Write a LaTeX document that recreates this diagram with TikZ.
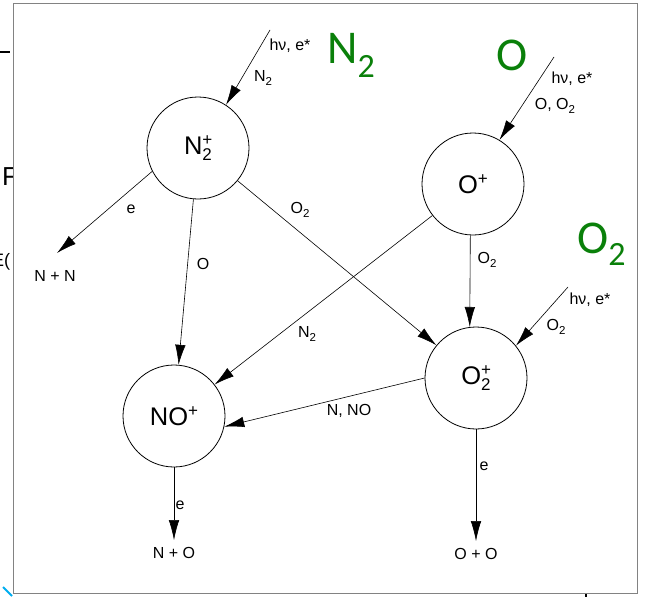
\documentclass[tikz,border=0pt]{standalone}
\usepackage{fontspec}
\setmainfont{Liberation Sans}
\newfontfamily\greenfont{Carlito}
\usetikzlibrary{arrows.meta,calc}
\definecolor{lbgreen}{RGB}{10,128,10}
\definecolor{framegray}{RGB}{130,130,130}
\newcommand{\lsub}[1]{\raisebox{-3.5pt}{\fontsize{11.5}{12}\selectfont #1}}
\newcommand{\isub}[1]{\raisebox{-6pt}{\fontsize{17}{20}\selectfont #1}}
\newcommand{\isup}[1]{\raisebox{9pt}{\fontsize{17}{20}\selectfont #1}}
\newcommand{\isubsup}[2]{\makebox[0pt][l]{\isup{#2}}\isub{#1}}
\newcommand{\gsub}[2]{\raisebox{-#2}{\fontsize{34}{36}\selectfont #1}}
\begin{document}
\begin{tikzpicture}[x=1pt,y=-1pt,
  ion/.style={circle, draw, line width=0.8pt, minimum size=102pt, inner sep=0pt,
    font=\fontsize{25.5}{28}\selectfont},
  rx/.style={draw=black, line width=0.6pt, -{Latex[length=20pt,width=10.5pt]}},
  lbl/.style={inner sep=0pt, font=\fontsize{16}{18}\selectfont},
  prod/.style={inner sep=0pt, font=\fontsize{16}{18}\selectfont},
  big/.style={inner sep=0pt, text=lbgreen, font=\greenfont\fontsize{47}{50}\selectfont, anchor=base west},
  artifact/.style={inner sep=0pt, font=\fontsize{26}{28}\selectfont}]
\useasboundingbox (0,0) rectangle (645,597);

% slide remnants outside the frame
\begin{scope}
\clip (0,0) rectangle (12,597);
\node[artifact, anchor=base west] (artF) at (2,185) {F};
\node[artifact, anchor=base west, font=\fontsize{18}{20}\selectfont] (artE) at (-8,266) {E(};
\end{scope}
\draw[line width=1.5pt] (0,52) -- (10,52);
\draw[cyan, line width=2pt] (3,587) -- (12,596);
\draw[line width=1.6pt] (586,593) -- (586,597);

% frame
\draw[framegray, line width=0.9pt] (13,3) rectangle (637,593);

% ions
\node[ion] (N2p) at (198,148) {N\isubsup{2}{+}};
\node[ion] (Op)  at (473,184) {O\isup{+}};
\node[ion] (O2p) at (476,378) {O\isubsup{2}{+}};
\node[ion] (NOp) at (174,416) {NO\isup{+}};

% products
\node[prod] (NN) at (55,276) {N + N};
\node[prod] (NO) at (174,553) {N + O};
\node[prod] (OO) at (476,554) {O + O};

% sources
\coordinate (srcN2) at (270,30);
\coordinate (srcO)  at (554,57);
\coordinate (srcO2) at (568,287);
\coordinate (tipNN) at (57,253);

% green species labels
\node[big] (gN2) at (327,63) {N\gsub{2}{14pt}};
\node[big] (gO)  at (496,70) {O};
\node[big] (gO2) at (577,253) {O\gsub{2}{12pt}};

% production
\draw[rx] (srcN2) -- (N2p.57);
\draw[rx] (srcO)  -- (Op.59);
\draw[rx] (srcO2) -- (O2p.39);
\node[lbl] (l1) at (290,46) {hν, e*};
\node[lbl] (l2) at (263,78) {N\lsub{2}};
\node[lbl] (l3) at (572,79) {hν, e*};
\node[lbl] (l4) at (555,106) {O, O\lsub{2}};
\node[lbl] (l5) at (590,300) {hν, e*};
\node[lbl] (l6) at (556,327) {O\lsub{2}};

% reactions
\draw[rx] (N2p.207.5) -- (tipNN);
\node[lbl] (l7) at (131,209) {e};
\draw[rx] (N2p) -- (NOp);
\node[lbl] (l8) at (203,264) {O};
\draw[rx] (N2p) -- (O2p);
\node[lbl] (l9) at (300,210) {O\lsub{2}};
\draw[rx] (Op) -- (NOp);
\node[lbl] (l10) at (307,334) {N\lsub{2}};
\draw[rx] (Op.-93) -- (O2p.97);
\node[lbl] (l11) at (487,260) {O\lsub{2}};
\draw[rx] (O2p.180) -- (NOp.-12);
\node[lbl] (l12) at (349,411) {N, NO};
\draw[rx] (NOp.south) -- ($(NO.north)+(0,-7)$);
\node[lbl] (l13) at (180,505) {e};
\draw[rx] (O2p.south) -- ($(OO.north)+(0,-7)$);
\node[lbl] (l14) at (484,466) {e};
\end{tikzpicture}
\end{document}
